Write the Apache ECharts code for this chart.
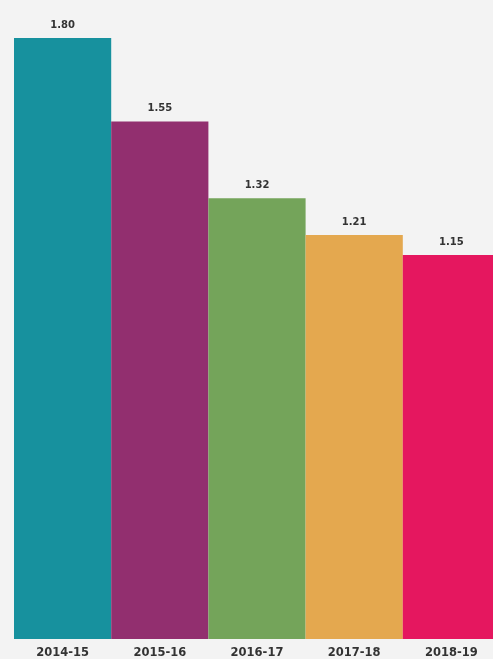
<!DOCTYPE html>
<html><head><meta charset="utf-8">
<script src="https://cdn.jsdelivr.net/npm/echarts@6/dist/echarts.min.js"></script>
<style>html,body{margin:0;padding:0;background:#f3f3f3;overflow:hidden;}#c{width:500px;height:659px;}</style>
</head><body><div id="c"></div>
<script>
const categories = ['2014-15','2015-16','2016-17','2017-18','2018-19'];
const values = [1.80, 1.55, 1.32, 1.21, 1.15];
const colors = ['#17919e','#922f6f','#74a45a','#e4a84f','#e5175f'];
const labels = ['1.80','1.55','1.32','1.21','1.15'];

const chart = echarts.init(document.getElementById('c'));
chart.setOption({
  backgroundColor: '#f3f3f3',
  animation: false,
  grid: {left: 14, right: 0, top: 38, bottom: 18},
  xAxis: {
    type: 'category', data: categories,
    axisLine: {show: false}, axisTick: {show: false},
    axisLabel: {color: '#333', fontFamily: 'DejaVu Sans', fontWeight: 'bold', fontSize: 11.5, margin: 8}
  },
  yAxis: {type: 'value', min: 0, max: 1.8, show: false, splitLine: {show: false}},
  series: [{
    type: 'bar', barCategoryGap: 0,
    data: values.map((v, i) => ({value: v, itemStyle: {color: colors[i]}})),
    label: {
      show: true, position: 'top', distance: 8,
      formatter: p => labels[p.dataIndex],
      color: '#333', fontFamily: 'DejaVu Sans', fontWeight: 'bold', fontSize: 10
    }
  }]
});
</script></body></html>
